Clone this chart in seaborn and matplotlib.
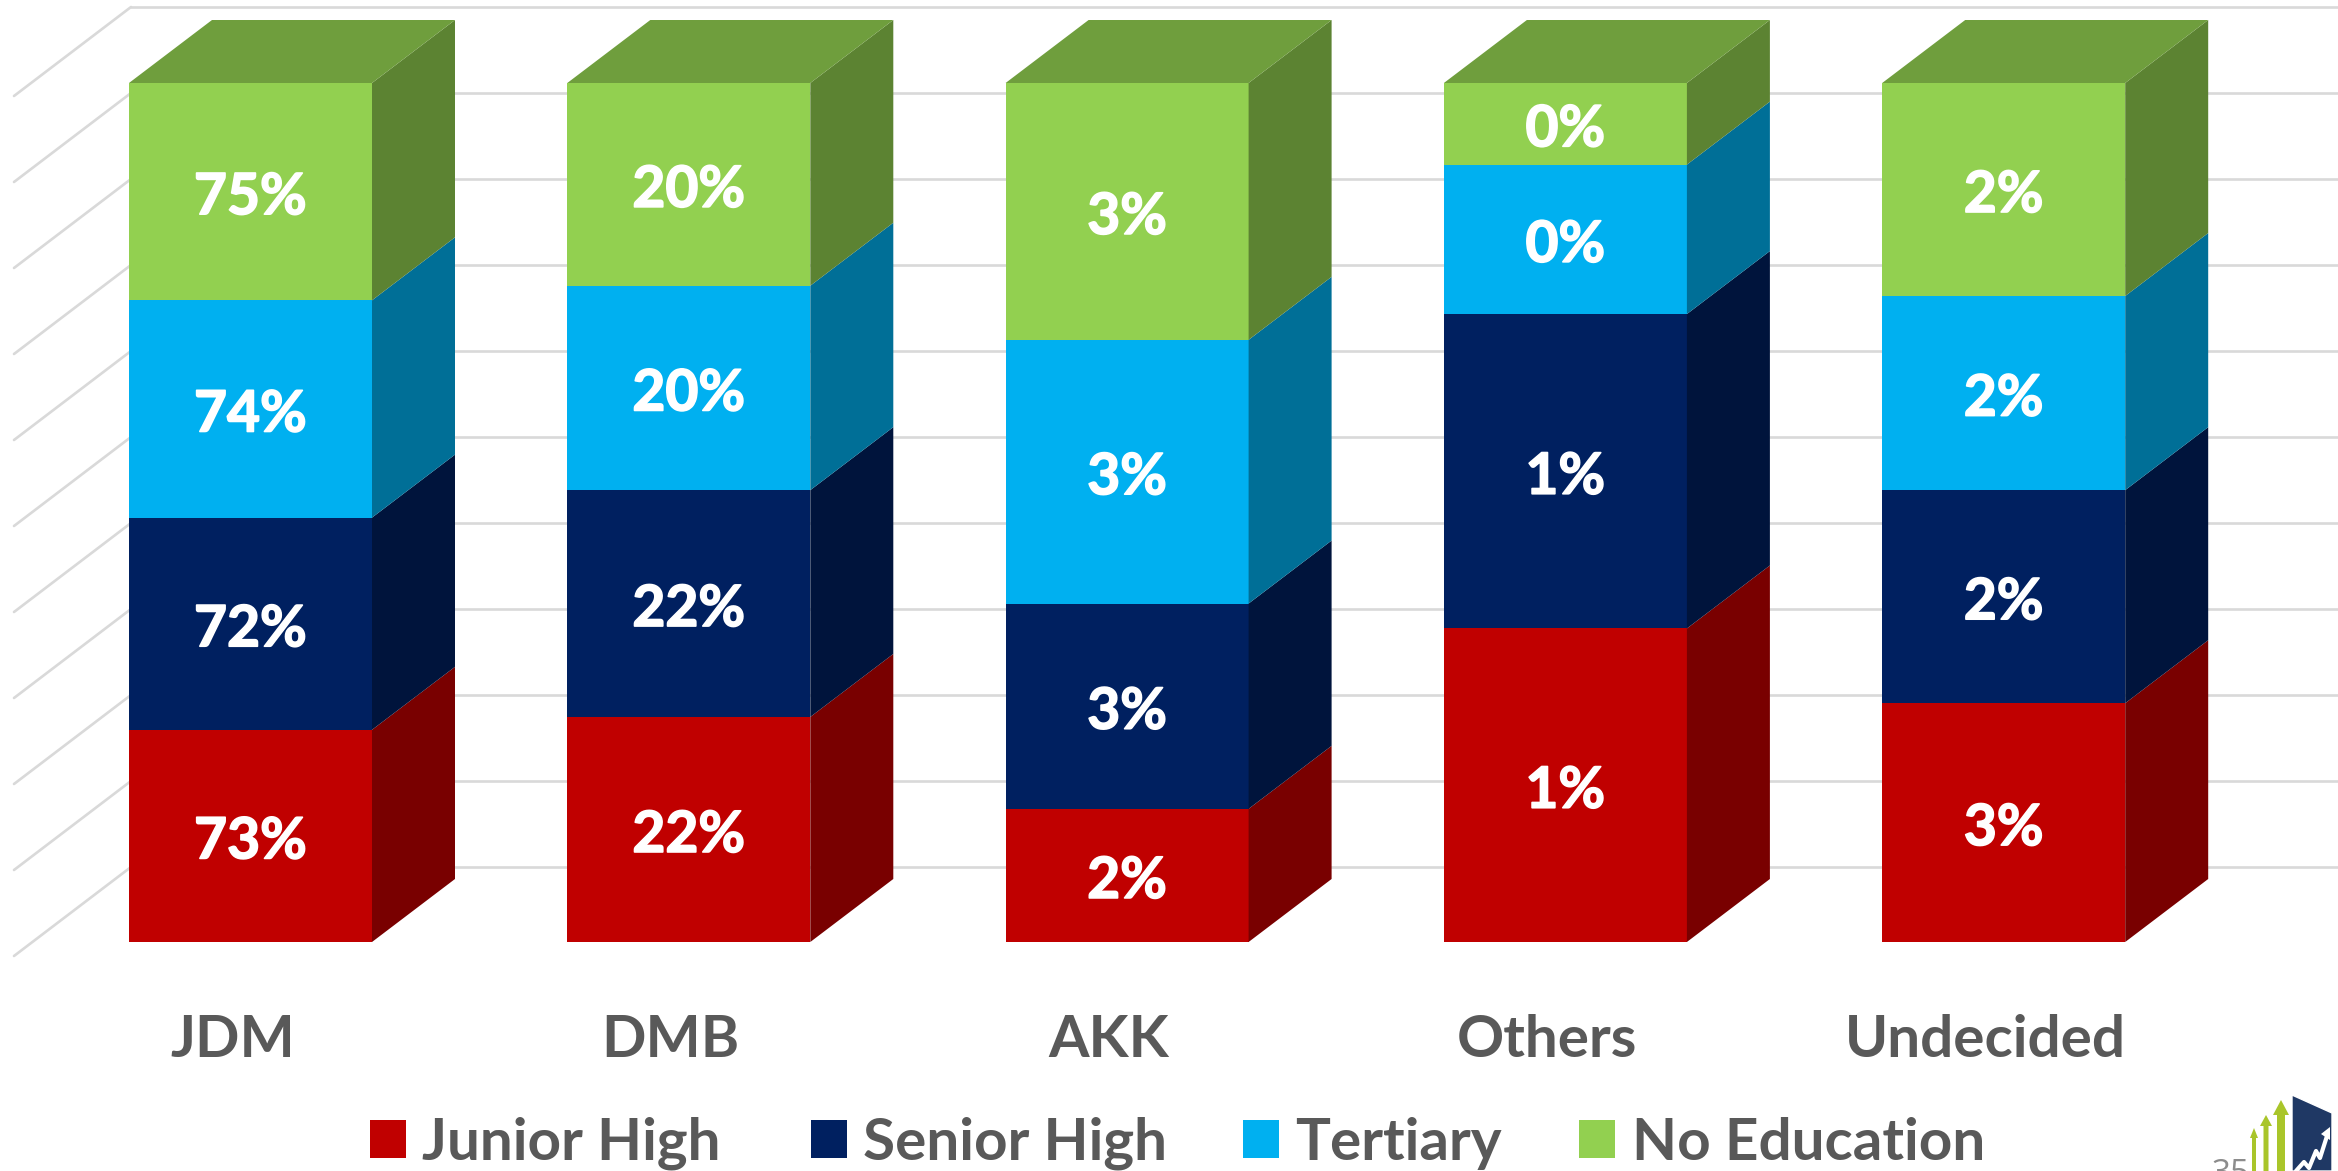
"""
Stacked 3D-look column chart: education level by candidate preference.
Saves out.png at about 2338x1171.
"""

import matplotlib.patheffects as pe
import matplotlib.pyplot as plt
import numpy as np
import pandas as pd
import seaborn as sns
from matplotlib.colors import to_rgb
from matplotlib.patches import Patch, Polygon

candidates = ["JDM", "DMB", "AKK", "Others", "Undecided"]
levels = ["Junior High", "Senior High", "Tertiary", "No Education"]
colors = ["#C00000", "#002060", "#00B0F0", "#92D050"]

# share of each column
junior_high = [24.7, 26.2, 15.5, 36.5, 27.8]
senior_high = [24.7, 26.4, 23.9, 36.6, 24.8]
tertiary = [25.3, 23.8, 30.7, 17.4, 22.6]
no_education = [25.3, 23.6, 29.9, 9.5, 24.8]

# printed labels are the original percentages, not the shares above
junior_labels = ["73%", "22%", "2%", "1%", "3%"]
senior_labels = ["72%", "22%", "3%", "1%", "2%"]
tertiary_labels = ["74%", "20%", "3%", "0%", "2%"]
no_edu_labels = ["75%", "20%", "3%", "0%", "2%"]

grid_ticks = [0, 10, 20, 30, 40, 50, 60, 70, 80, 90, 100]

W, H = 2338, 1171
TEXT_GREY = "#595959"
GRID_GREY = "#D9D9D9"
FONT = "Lato"


def shade(color, factor):
    return tuple(c * factor for c in to_rgb(color))


sns.set_theme(style="white")
plt.rcParams["font.family"] = [FONT, "DejaVu Sans"]

fig, ax = plt.subplots(figsize=(W / 100, H / 100), dpi=100)
ax.set_position([0, 0, 1, 1])

shares = np.array([junior_high, senior_high, tertiary, no_education])
tops = shares.cumsum(axis=0)
bottoms = tops - shares
labels = [junior_labels, senior_labels, tertiary_labels, no_edu_labels]

bar_width = 243 / 438.3
# tallest stack first so each lower level paints over the one above it
for i in reversed(range(len(levels))):
    df = pd.DataFrame({"candidate": candidates, "top": tops[i]})
    sns.barplot(
        data=df, x="candidate", y="top", color=colors[i], saturation=1,
        width=bar_width, errorbar=None, linewidth=0, zorder=3, ax=ax,
    )

# axis limits map column spacing and the 0-100 scale onto figure pixels
x_per_px = 1 / 438.3
y_per_px = 100 / 859
ax.set_xlim(-250.5 * x_per_px, (W - 250.5) * x_per_px)
ax.set_ylim((942 - H) * y_per_px, 942 * y_per_px)

depth_x = 83 * x_per_px
depth_y = 63 * y_per_px

# gridlines on the back wall and the left side wall
wall_left = ax.get_xlim()[0] + 131 * x_per_px
wall_rise = 75 * y_per_px
for tick in grid_ticks:
    y = tick * 860 / 859 + wall_rise
    ax.plot([wall_left, ax.get_xlim()[1]], [y, y], color=GRID_GREY, lw=1.9, zorder=1)
    ax.plot(
        [wall_left - 117 * x_per_px, wall_left], [y - 89 * y_per_px, y],
        color=GRID_GREY, lw=1.9, zorder=1,
    )

# heavier than plain Lato bold, closer to the original typeface
label_stroke = [pe.withStroke(linewidth=1.2, foreground="white")]

# side and top faces
for j in range(len(candidates)):
    left = j - bar_width / 2
    right = j + bar_width / 2
    for i in range(len(levels)):
        y0, y1 = bottoms[i][j], tops[i][j]
        ax.add_patch(Polygon(
            [(right, y0), (right + depth_x, y0 + depth_y),
             (right + depth_x, y1 + depth_y), (right, y1)],
            closed=True, facecolor=shade(colors[i], 0.63), edgecolor="none", zorder=3,
        ))
        ax.text(
            j, (y0 + y1) / 2 - 6 * y_per_px, labels[i][j], color="white", fontsize=41,
            fontweight="bold", ha="center", va="center", zorder=4,
            path_effects=label_stroke,
        )
    top = tops[-1][j]
    ax.add_patch(Polygon(
        [(left, top), (left + depth_x, top + depth_y),
         (right + depth_x, top + depth_y), (right, top)],
        closed=True, facecolor=shade(colors[-1], 0.76), edgecolor="none", zorder=3,
    ))

ax.set_xticks(np.arange(len(candidates)) - 18 * x_per_px, candidates)
ax.set_xlabel("")
ax.set_ylabel("")
ax.set_yticks([])
ax.tick_params(axis="x", length=0, labelsize=42, labelcolor=TEXT_GREY)
ax.xaxis.set_tick_params(direction="in", pad=-113)
for tick_label in ax.get_xticklabels():
    tick_label.set_fontweight("bold")
sns.despine(ax=ax, left=True, bottom=True)

# one legend per entry: the gaps between entries are not even in the original
legend_lefts = [370, 811, 1243, 1579]
for color, level, legend_left in zip(colors, levels, legend_lefts):
    fig.legend(
        handles=[Patch(facecolor=color, edgecolor="none", label=level)],
        loc="center left", frameon=False,
        bbox_to_anchor=(legend_left / W, 1 - 1143 / H), borderpad=0, borderaxespad=0,
        prop={"family": FONT, "weight": "bold", "size": 42}, labelcolor=TEXT_GREY,
        handlelength=0.62, handleheight=0.62, handletextpad=0.28,
    )

# page number and logo in the corner, in pixel coordinates
logo = fig.add_axes([0, 0, 1, 1], facecolor="none")
logo.set_xlim(0, W)
logo.set_ylim(H, 0)
logo.axis("off")
logo.text(2231, 1158, "35", color="#8C8C8C", fontsize=24, ha="center", va="top", family="Open Sans")
logo.add_patch(Polygon([(2292, 1095), (2332, 1113), (2332, 1171), (2292, 1171)], facecolor="#1F3864"))
for x, top_y, half, head, stem in [(2254, 1128, 4, 10, 2), (2266, 1115, 6, 11, 2.5), (2281, 1100, 8, 15, 4)]:
    logo.add_patch(Polygon(
        [(x - half, top_y + head), (x, top_y), (x + half, top_y + head),
         (x + stem, top_y + head), (x + stem, H), (x - stem, H), (x - stem, top_y + head)],
        facecolor="#A9C52A", edgecolor="none",
    ))
logo.plot([2296, 2304, 2309, 2316, 2320, 2327], [1171, 1162, 1168, 1151, 1158, 1136], color="white", lw=3)
logo.add_patch(Polygon([(2321, 1134), (2330, 1127), (2330, 1140)], facecolor="white", edgecolor="none"))

fig.savefig("out.png", dpi=100)
plt.close(fig)
